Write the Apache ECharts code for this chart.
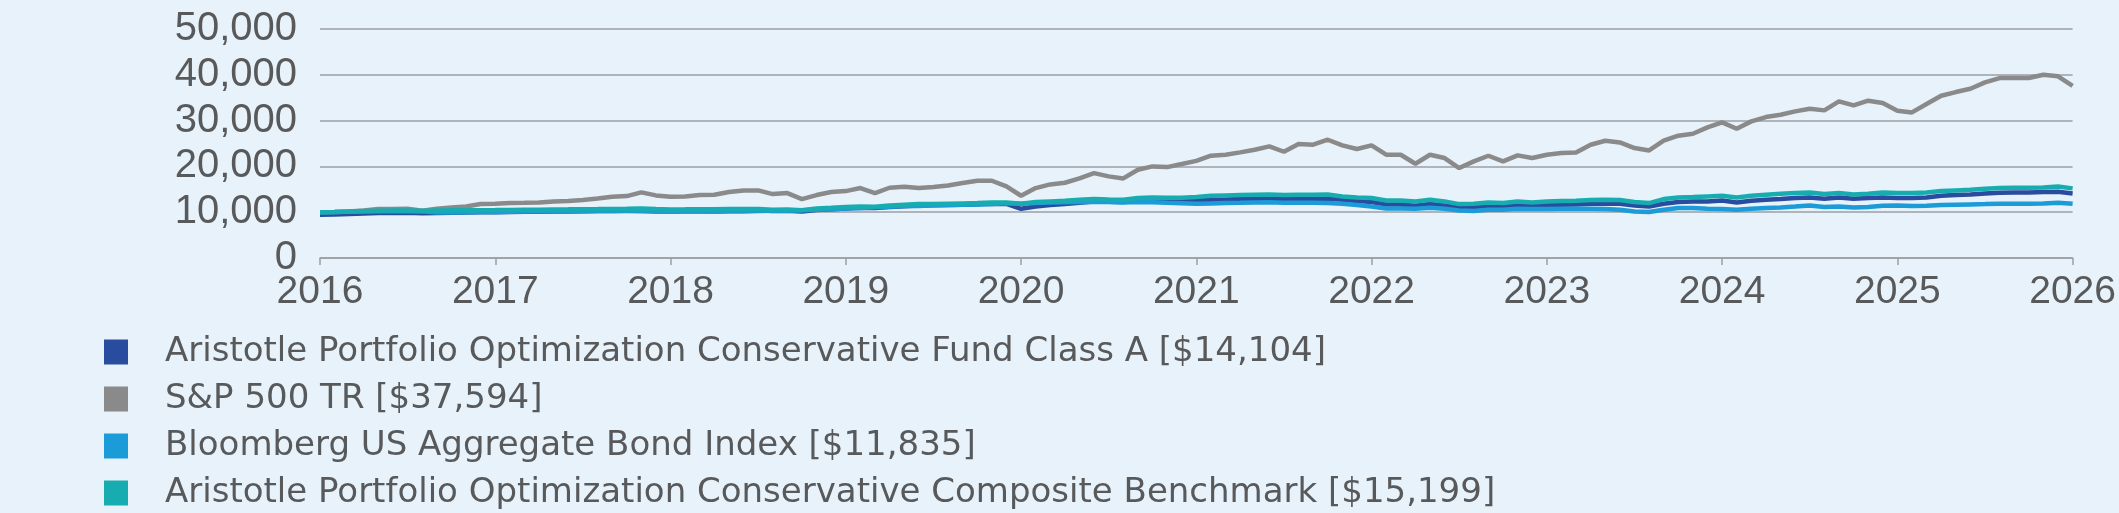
<!DOCTYPE html>
<html>
<head>
<meta charset="utf-8">
<script src="https://cdn.jsdelivr.net/npm/echarts@6/dist/echarts.min.js"></script>
<style>
  html, body { margin: 0; padding: 0; background: #e8f2fa; }
  #chart { width: 2119px; height: 513px; }
</style>
</head>
<body>
<div id="chart"></div>
<script>
// Tick labels on the x axis (one per 12 monthly points)
const yearLabels = ['2016','2017','2018','2019','2020','2021','2022','2023','2024','2025','2026'];

const seriesNames = [
  'Aristotle Portfolio Optimization Conservative Fund Class A [$14,104]',
  'S&P 500 TR [$37,594]',
  'Bloomberg US Aggregate Bond Index [$11,835]',
  'Aristotle Portfolio Optimization Conservative Composite Benchmark [$15,199]'
];

// Monthly values, 121 points each
const fundA = [
  9450,9500,9600,9700,9800,9830,9870,9760,9850,9900,9950,9970,
  10000,10050,10080,10110,10150,10180,10200,10240,10280,10300,10400,10250,
  10170,10200,10240,10230,10300,10340,10400,10250,10320,10150,10500,10650,
  10800,10950,10900,11150,11300,11450,11500,11580,11650,11720,11850,11800,
  10750,11260,11560,11770,12060,12360,12300,12200,12720,12870,12750,12720,
  12620,12720,12790,12870,12940,13010,12870,12940,12940,13010,12720,12430,
  12210,11700,11700,11410,11770,11480,11050,11120,11340,11190,11560,11410,
  11560,11630,11700,11850,11920,11850,11480,11260,11850,12210,12360,12360,
  12570,12140,12500,12720,12870,13080,13230,12940,13230,12940,13080,13230,
  13080,13080,13230,13590,13740,13880,14100,14250,14320,14320,14400,14450,
  14104
];
const sp500 = [
  10000,10030,10170,10390,10680,10680,10750,10320,10750,11050,11260,11770,
  11850,11990,12060,12140,12360,12430,12650,13010,13380,13520,14320,13670,
  13380,13450,13740,13810,14400,14760,14760,13960,14180,12870,13740,14400,
  14610,15270,14180,15340,15560,15270,15490,15850,16360,16870,16870,15630,
  13590,15270,16070,16430,17380,18540,17820,17380,19270,20000,19850,20510,
  21200,22330,22550,23060,23640,24370,23200,24880,24730,25820,24590,23790,
  24590,22550,22550,20580,22550,21820,19640,21090,22330,21090,22400,21820,
  22550,22910,23060,24730,25610,25240,24000,23490,25610,26700,27130,28520,
  29610,28230,29830,30770,31280,32010,32590,32230,34200,33320,34340,33830,
  32160,31790,33610,35430,36230,36960,38350,39290,39290,39290,40020,39660,
  37594
];
const bondAgg = [
  10000,10030,10080,10150,10200,10220,10200,10180,9950,9960,9980,10050,
  10060,10100,10130,10160,10220,10200,10220,10280,10270,10250,10200,10100,
  10080,10150,10150,10100,10150,10160,10250,10300,10320,10450,10550,10650,
  10800,10900,11100,11200,11350,11350,11500,11550,11600,11700,11780,11950,
  11850,11990,12100,12180,12200,12220,12210,12140,12210,12180,12050,11950,
  11850,11920,11990,12060,12140,12150,12060,12060,12040,11990,11850,11560,
  11260,10830,10830,10750,10970,10750,10390,10240,10540,10540,10750,10680,
  10680,10750,10750,10750,10680,10540,10170,10030,10540,10900,10900,10750,
  10680,10540,10750,10900,11050,11260,11480,11120,11260,11050,11120,11410,
  11480,11340,11410,11560,11630,11700,11770,11850,11850,11850,11920,12060,
  11835
];
const composite = [
  10000,10050,10150,10250,10320,10350,10380,10300,10350,10400,10450,10450,
  10460,10500,10530,10560,10600,10620,10650,10680,10720,10730,10800,10680,
  10600,10620,10650,10640,10700,10720,10720,10540,10610,10450,10830,10970,
  11120,11260,11200,11480,11630,11770,11770,11850,11920,11990,12140,12140,
  11850,12210,12360,12500,12720,12870,12790,12720,13080,13230,13160,13160,
  13340,13590,13670,13740,13810,13880,13740,13810,13810,13880,13450,13230,
  13080,12570,12570,12360,12720,12360,11770,11850,12140,11990,12360,12140,
  12360,12430,12500,12650,12720,12650,12250,11990,12870,13230,13300,13450,
  13590,13230,13590,13810,14030,14180,14320,13960,14180,13880,14030,14320,
  14180,14180,14320,14610,14760,14900,15120,15270,15340,15340,15410,15630,
  15199
];

const colors = ['#2a4c9e', '#8a8a8a', '#1b9bd7', '#17adb0'];
const valueSets = [fundA, sp500, bondAgg, composite];

const textColor = '#58595b';
const gridColor = '#9c9fa4';

const legendTops = [335, 382, 429, 476];
const legends = seriesNames.map(function (name, k) {
  return {
    orient: 'vertical',
    left: 104,
    top: legendTops[k],
    padding: 0,
    itemWidth: 24,
    itemHeight: 25,
    icon: 'rect',
    itemStyle: { borderWidth: 0 },
    textStyle: {
      fontFamily: '"DejaVu Sans", sans-serif',
      fontSize: 34,
      color: textColor,
      padding: [0, 0, 0, 32]
    },
    data: [name]
  };
});

const chart = echarts.init(document.getElementById('chart'), null, { renderer: 'canvas' });
chart.setOption({
  backgroundColor: '#e8f2fa',
  animation: false,
  grid: { left: 320, right: 46, top: 29, bottom: 255, containLabel: false },
  legend: legends,
  xAxis: {
    type: 'value',
    min: 0,
    max: 120,
    interval: 12,
    axisLine: { show: true, lineStyle: { color: gridColor, width: 1.5 } },
    axisTick: { show: true, length: 7, lineStyle: { color: gridColor, width: 1.5 } },
    splitLine: { show: false },
    axisLabel: {
      fontFamily: '"Liberation Sans", Arial, sans-serif',
      fontSize: 39,
      color: textColor,
      margin: 15,
      showMinLabel: true,
      showMaxLabel: true,
      formatter: function (v) { return yearLabels[Math.round(v / 12)]; }
    }
  },
  yAxis: {
    type: 'value',
    min: 0,
    max: 50000,
    interval: 10000,
    axisLine: { show: false },
    axisTick: { show: false },
    splitLine: { show: true, lineStyle: { color: gridColor, width: 1.5 } },
    axisLabel: {
      fontFamily: '"Liberation Sans", Arial, sans-serif',
      fontSize: 40,
      color: textColor,
      margin: 23,
      padding: [0, 0, 12, 0],
      formatter: function (v) { return v.toLocaleString('en-US'); }
    }
  },
  series: seriesNames.map(function (name, k) {
    return {
      name: name,
      type: 'line',
      symbol: 'none',
      showSymbol: false,
      color: colors[k],
      lineStyle: { width: 4.5, color: colors[k] },
      itemStyle: { color: colors[k] },
      data: valueSets[k].map(function (v, i) { return [i, v]; })
    };
  })
});
</script>
</body>
</html>
